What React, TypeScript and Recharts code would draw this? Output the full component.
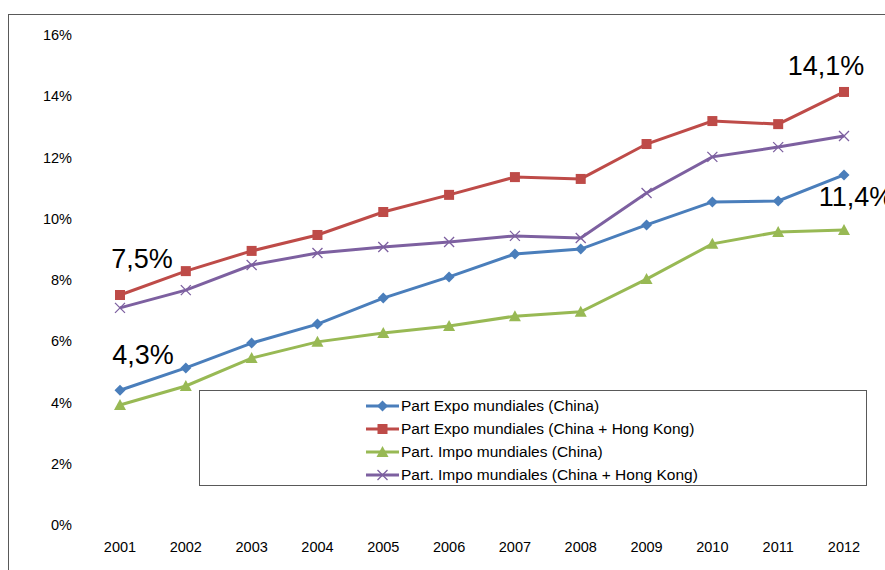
import React from "react";
import { LineChart, Line, XAxis, YAxis, LabelList } from "recharts";

const years = ["2001", "2002", "2003", "2004", "2005", "2006", "2007", "2008", "2009", "2010", "2011", "2012"];
const expoChina = [4.4, 5.13, 5.94, 6.56, 7.41, 8.1, 8.85, 9.01, 9.8, 10.55, 10.58, 11.43];
const expoChinaHK = [7.51, 8.29, 8.95, 9.47, 10.22, 10.78, 11.36, 11.3, 12.44, 13.19, 13.09, 14.14];
const impoChina = [3.92, 4.54, 5.45, 5.98, 6.27, 6.5, 6.82, 6.96, 8.03, 9.18, 9.57, 9.63];
const impoChinaHK = [7.09, 7.67, 8.49, 8.88, 9.08, 9.24, 9.44, 9.37, 10.84, 12.02, 12.34, 12.7];
const yTicks = [0, 2, 4, 6, 8, 10, 12, 14, 16];

// callouts written on the chart (first and last year)
const expoChinaNotes = ["4,3%", "", "", "", "", "", "", "", "", "", "", "11,4%"];
const expoChinaHKNotes = ["7,5%", "", "", "", "", "", "", "", "", "", "", "14,1%"];

const series = [
  { key: "expoChina", name: "Part Expo mundiales (China)", color: "#4A7EBB", shape: "diamond" },
  { key: "expoChinaHK", name: "Part Expo mundiales (China + Hong Kong)", color: "#BE4B48", shape: "square" },
  { key: "impoChina", name: "Part. Impo mundiales (China)", color: "#98B954", shape: "triangle" },
  { key: "impoChinaHK", name: "Part. Impo mundiales (China + Hong Kong)", color: "#7D60A0", shape: "cross" },
];

const data = years.map((year, i) => ({
  year,
  expoChina: expoChina[i],
  expoChinaHK: expoChinaHK[i],
  impoChina: impoChina[i],
  impoChinaHK: impoChinaHK[i],
  expoNote: expoChinaNotes[i],
  expoHKNote: expoChinaHKNotes[i],
}));

const font = "Liberation Sans, Arial, sans-serif";

function marker(shape: string, color: string, cx: number, cy: number, key?: string) {
  if (shape === "diamond") {
    const r = 5.5;
    return <path key={key} d={`M${cx},${cy - r}L${cx + r},${cy}L${cx},${cy + r}L${cx - r},${cy}Z`} fill={color} />;
  }
  if (shape === "square") {
    return <rect key={key} x={cx - 5} y={cy - 5} width={10} height={10} fill={color} />;
  }
  if (shape === "triangle") {
    return <path key={key} d={`M${cx},${cy - 6}L${cx + 6},${cy + 5}L${cx - 6},${cy + 5}Z`} fill={color} />;
  }
  return (
    <path key={key} d={`M${cx - 5},${cy - 5}L${cx + 5},${cy + 5}M${cx - 5},${cy + 5}L${cx + 5},${cy - 5}`} stroke={color} strokeWidth={1.3} fill="none" />
  );
}

const makeDot = (shape: string, color: string) => (props: any) => {
  const { cx, cy, index } = props;
  return marker(shape, color, cx, cy, `d${index}`);
};

const noteOffsets: Record<string, [number, number]> = {
  "7,5%": [22, -27],
  "4,3%": [23, -26],
  "14,1%": [-18, -17],
  "11,4%": [12, 31],
};

const renderNote = (props: any) => {
  const { x, y, value } = props;
  if (!value) return null;
  const [dx, dy] = noteOffsets[value] || [0, -15];
  return (
    <text x={x + dx} y={y + dy} textAnchor="middle" fontSize={27} fill="#000" fontFamily={font}>
      {value}
    </text>
  );
};

function LegendBox() {
  return (
    <div
      style={{
        position: "absolute",
        left: 199,
        top: 390,
        width: 668,
        height: 96,
        border: "1.5px solid #595959",
        boxSizing: "border-box",
        paddingLeft: 165,
        paddingTop: 3,
        fontFamily: font,
        fontSize: 15.5,
        color: "#000",
        background: "#fff",
      }}
    >
      {series.map((s) => (
        <div key={s.key} style={{ display: "flex", alignItems: "center", height: 23 }}>
          <svg width={35} height={14} style={{ marginRight: 1 }}>
            <line x1={1} y1={7} x2={34} y2={7} stroke={s.color} strokeWidth={3} />
            {marker(s.shape, s.color, 17.5, 7)}
          </svg>
          <span>{s.name}</span>
        </div>
      ))}
    </div>
  );
}

export default function App() {
  return (
    <div style={{ position: "absolute", left: 0, top: 0, width: 885, height: 570, overflow: "hidden", background: "#fff" }}>
      <div
        style={{
          position: "absolute",
          left: 8,
          top: 14,
          width: 950,
          height: 650,
          border: "1.5px solid #595959",
        }}
      />
      <div style={{ position: "absolute", left: 0, top: 0 }}>
        <LineChart width={885} height={570} data={data} margin={{ top: 35, right: 8, bottom: 0, left: 27 }}>
          <XAxis
            dataKey="year"
            axisLine={false}
            tickLine={false}
            padding={{ left: 33, right: 33 }}
            height={45}
            tickMargin={11}
            tick={{ fill: "#000", fontSize: 14.5, fontFamily: font }}
          />
          <YAxis
            domain={[0, 16]}
            ticks={yTicks}
            width={60}
            axisLine={false}
            tickLine={false}
            tickSize={0}
            tickMargin={15}
            tickFormatter={(v: number) => `${v}%`}
            tick={{ fill: "#000", fontSize: 14.5, fontFamily: font }}
          />
          {series.map((s) => (
            <Line
              key={s.key}
              type="linear"
              dataKey={s.key}
              name={s.name}
              stroke={s.color}
              strokeWidth={3}
              dot={makeDot(s.shape, s.color)}
              activeDot={false}
              isAnimationActive={false}
            >
              {s.key === "expoChina" && <LabelList dataKey="expoNote" content={renderNote} />}
              {s.key === "expoChinaHK" && <LabelList dataKey="expoHKNote" content={renderNote} />}
            </Line>
          ))}
        </LineChart>
      </div>
      <LegendBox />
    </div>
  );
}
